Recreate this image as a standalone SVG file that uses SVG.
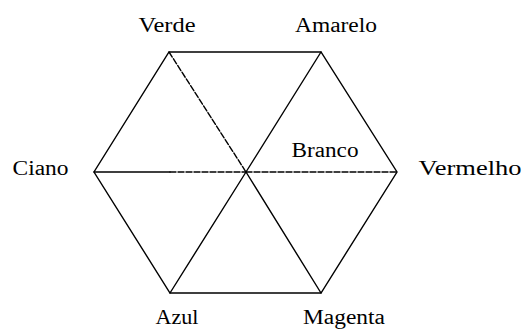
<svg xmlns="http://www.w3.org/2000/svg" width="523" height="331" viewBox="0 0 523 331">
<style>
.e{stroke:#000;stroke-width:1.4;fill:none;stroke-linecap:round}
.d{stroke-dasharray:6 2}
.t{font-family:"Liberation Serif","Times New Roman",serif;font-size:20px;fill:#000;text-anchor:middle}
</style>
<rect width="523" height="331" fill="#fff"/>
<g id="connectors">
<polygon class="e" points="169,52 321,52 397,172 321,293 170,293 94,172" stroke-linejoin="miter"/>
<line class="e d" x1="169" y1="52" x2="246" y2="172"/>
<line class="e" x1="246" y1="172" x2="321" y2="293"/>
<line class="e" x1="321" y1="52" x2="246" y2="172"/>
<line class="e" x1="246" y1="172" x2="170" y2="293"/>
<line class="e" x1="94" y1="172" x2="170" y2="172"/>
<line class="e d" x1="170" y1="172" x2="246" y2="172"/>
<line class="e d" x1="246" y1="172" x2="397" y2="172"/>
</g>
<g id="verde"><text class="t" x="167" y="32" textLength="57" lengthAdjust="spacingAndGlyphs">Verde</text></g>
<g id="amarelo"><text class="t" x="336" y="32" textLength="82" lengthAdjust="spacingAndGlyphs">Amarelo</text></g>
<g id="ciano"><text class="t" x="40.5" y="175" textLength="56" lengthAdjust="spacingAndGlyphs">Ciano</text></g>
<g id="branco"><text class="t" x="325" y="157" textLength="67" lengthAdjust="spacingAndGlyphs">Branco</text></g>
<g id="vermelho"><text class="t" x="470" y="175" textLength="103" lengthAdjust="spacingAndGlyphs">Vermelho</text></g>
<g id="azul"><text class="t" x="177" y="324" textLength="43" lengthAdjust="spacingAndGlyphs">Azul</text></g>
<g id="magenta"><text class="t" x="344" y="324" textLength="82" lengthAdjust="spacingAndGlyphs">Magenta</text></g>
</svg>
